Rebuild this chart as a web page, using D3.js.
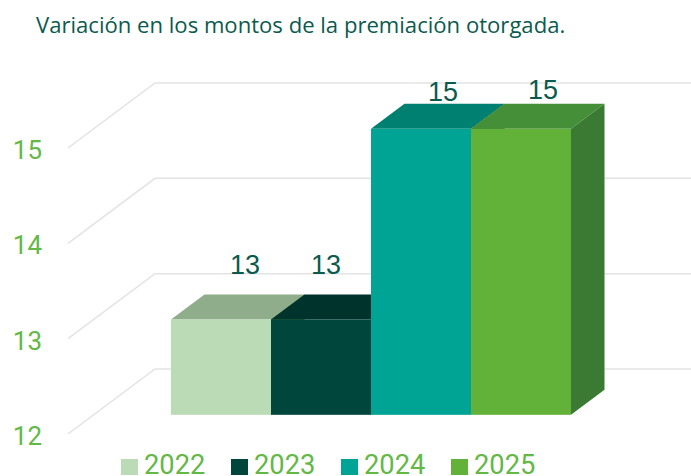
<!DOCTYPE html>
<html>
<head>
<meta charset="utf-8">
<script src="https://cdn.jsdelivr.net/npm/d3@7"></script>
<style>
  html, body { margin: 0; padding: 0; background: #fff; overflow: hidden; }
</style>
</head>
<body>
<div id="res"></div>
<script>
/* data */
var years = ["2022", "2023", "2024", "2025"];
var amounts = [13, 13, 15, 15];
var yTicks = [12, 13, 14, 15];
var frontColors = ["#bbdbb6", "#00463d", "#00a494", "#62b23a"];
var topColors = ["#8fad8a", "#00332c", "#008070", "#458f38"];
var title = "Variación en los montos de la premiación otorgada.";

/* size of the graphic and style parameters */
var width = 691;
var height = 476;
var wallX = 68;        // front edge of the left wall
var wallDx = 87;       // depth of the whole floor
var wallDy = -65;
var barDx = 33.5;      // depth of a single bar
var barDy = -25;
var barShift = 0.295;  // how far into the floor the bars stand
var tickColor = "#63b846";
var textColor = "#0b5a4e";
var gridColor = "#e3e3e3";
var sideColor = "#3a7a32";

var svg = d3.select("#res")
	.append("svg")
		.attr("width", width)
		.attr("height", height)
		.style("display", "block");

/* scales */
var y = d3.scaleLinear().domain([12, 15]).range([434, 148]);
var x = d3.scaleBand().domain(years).range([171, 571]).padding(0);

/* title */
svg.append("text")
	.attr("x", 36)
	.attr("y", 33)
	.style("font-family", "'Open Sans', sans-serif")
	.style("font-size", "22.1px")
	.style("fill", textColor)
	.text(title);

/* walls: left side goes up to the back, then back line to the right edge */
svg.append("g").selectAll("path")
	.data(yTicks)
	.join("path")
		.attr("fill", "none")
		.attr("stroke", gridColor)
		.attr("stroke-width", 1.5)
		.attr("d", function(d) {
			return "M" + wallX + "," + y(d) +
				"L" + (wallX + wallDx) + "," + (y(d) + wallDy) +
				"L" + width + "," + (y(d) + wallDy);
		});

/* y axis labels */
var axis = svg.append("g")
	.attr("transform", "translate(44,0)")
	.call(d3.axisLeft(y).tickValues(yTicks).tickSize(0).tickPadding(2).tickFormat(d3.format("d")));
axis.select(".domain").remove();
axis.selectAll("text")
	.attr("dy", "0.4em")
	.style("font-family", "Roboto, sans-serif")
	.style("font-size", "26px")
	.style("fill", tickColor);

/* bars, left to right so each one covers the side of the previous */
var baseY = y(12) + barShift * wallDy;
function barTop(v) { return y(v) + barShift * wallDy; }

var bars = svg.append("g").selectAll("g")
	.data(years)
	.join("g");

bars.append("path") // top face
	.attr("fill", function(d, i) { return topColors[i]; })
	.attr("d", function(d, i) {
		var x0 = x(d), x1 = x0 + x.bandwidth(), t = barTop(amounts[i]);
		return "M" + x0 + "," + t + "L" + (x0 + barDx) + "," + (t + barDy) +
			"L" + (x1 + barDx) + "," + (t + barDy) + "L" + x1 + "," + t + "Z";
	});

bars.append("path") // right face
	.attr("fill", sideColor)
	.attr("d", function(d, i) {
		var x1 = x(d) + x.bandwidth(), t = barTop(amounts[i]);
		return "M" + x1 + "," + t + "L" + (x1 + barDx) + "," + (t + barDy) +
			"L" + (x1 + barDx) + "," + (baseY + barDy) + "L" + x1 + "," + baseY + "Z";
	});

bars.append("rect") // front face
	.attr("x", function(d) { return x(d); })
	.attr("y", function(d, i) { return barTop(amounts[i]); })
	.attr("width", x.bandwidth())
	.attr("height", function(d, i) { return baseY - barTop(amounts[i]); })
	.attr("fill", function(d, i) { return frontColors[i]; });

/* value labels, nudged the way they sit in the original */
var labelDx = [24, 5, 22, 22];
var labelDy = [-45, -45, -28, -30];
svg.append("g").selectAll("text")
	.data(years)
	.join("text")
		.attr("x", function(d, i) { return x(d) + x.bandwidth() / 2 + labelDx[i]; })
		.attr("y", function(d, i) { return barTop(amounts[i]) + labelDy[i]; })
		.attr("text-anchor", "middle")
		.style("font-family", "'Liberation Sans', sans-serif")
		.style("font-size", "27px")
		.style("fill", textColor)
		.text(function(d, i) { return amounts[i]; });

/* legend */
var legendX = d3.scalePoint().domain(years).range([121, 451]);
var legend = svg.append("g").selectAll("g")
	.data(years)
	.join("g")
		.attr("transform", function(d) { return "translate(" + legendX(d) + ",0)"; });

legend.append("rect")
	.attr("y", 459)
	.attr("width", 17)
	.attr("height", 16)
	.attr("fill", function(d, i) { return frontColors[i]; });

legend.append("text")
	.attr("x", 23)
	.attr("y", 474)
	.style("font-family", "Roboto, sans-serif")
	.style("font-size", "27.3px")
	.style("fill", tickColor)
	.text(function(d) { return d; });
</script>
</body>
</html>
